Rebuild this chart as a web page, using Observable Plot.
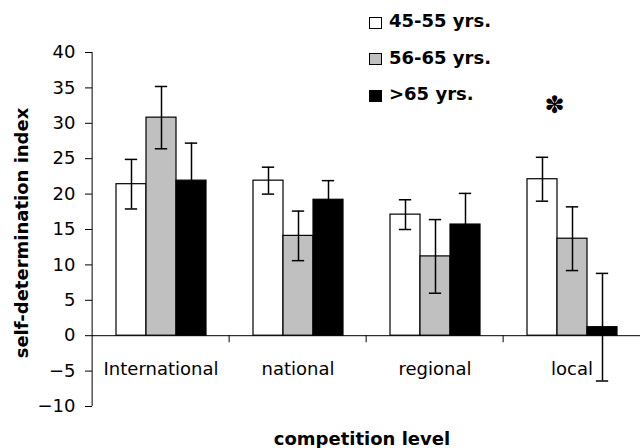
<!DOCTYPE html>
<html><head><meta charset="utf-8">
<script src="https://cdn.jsdelivr.net/npm/d3@7"></script>
<script src="https://cdn.jsdelivr.net/npm/@observablehq/plot@0.6"></script>
<style>
body{margin:0;background:#fff;}
#wrap{position:relative;width:641px;height:448px;font-family:"DejaVu Sans",sans-serif;overflow:hidden;background:#fff}
.ov{position:absolute;white-space:nowrap;font-weight:bold;font-size:18px;line-height:21px;color:#000}
.sw{position:absolute;width:11px;height:10px;border:1px solid #000}
</style></head><body><div id="wrap"></div>
<script>
// ---- data ----
const categories = ["International", "national", "regional", "local"];
const series = ["45-55 yrs.", "56-65 yrs.", ">65 yrs."];
const colors = ["#ffffff", "#c0c0c0", "#000000"];
const means45 = [21.4, 21.9, 17.1, 22.1];
const means56 = [30.8, 14.1, 11.2, 13.7];
const means65 = [21.9, 19.2, 15.7, 1.2];
const err45 = [3.5, 1.9, 2.1, 3.1];
const err56 = [4.4, 3.5, 5.2, 4.5];
const err65 = [5.3, 2.7, 4.4, 7.6];
const yTicks = [-10, -5, 0, 5, 10, 15, 20, 25, 30, 35, 40];
const markCategory = ["local"];
const markSeries = ["45-55 yrs."];
const markY = [32.6];
const markText = ["✽"];
const yLabel = "self-determination index";
const xLabel = "competition level";

// ---- build table ----
const means = [means45, means56, means65];
const errs = [err45, err56, err65];
const rows = categories.flatMap((c, i) => series.map((s, k) => ({category: c, series: s, value: means[k][i], err: errs[k][i]})));
const marks = markCategory.map((c, i) => ({category: c, series: markSeries[i], y: markY[i], text: markText[i]}));

const W = 641, H = 448, ML = 90, MR = 0, MT = 52, MB = 42;
const step = (W - ML - MR) / categories.length;
const barW = 30.67;
const po = (step / barW - series.length) / 2;
const capInset = (barW - 13) / 2;

const chart = Plot.plot({
  width: W, height: H,
  marginLeft: ML, marginRight: MR, marginTop: MT, marginBottom: MB,
  style: {fontFamily: "DejaVu Sans", fontSize: "18px", color: "#000", background: "#fff"},
  fx: {domain: categories, padding: 0, axis: null},
  x: {domain: series, paddingInner: 0, paddingOuter: po, axis: null},
  y: {domain: [-10, 40]},
  color: {domain: series, range: colors},
  marks: [
    Plot.ruleY([0], {stroke: "#000", strokeWidth: 1}),
    Plot.barY(rows, {fx: "category", x: "series", y: "value", fill: "series", stroke: "#000", strokeWidth: 1.2}),
    Plot.ruleX(rows, {fx: "category", x: "series", y1: d => d.value - d.err, y2: d => d.value + d.err, stroke: "#000", strokeWidth: 1.5}),
    Plot.tickY(rows, {fx: "category", x: "series", y: d => d.value + d.err, insetLeft: capInset, insetRight: capInset, stroke: "#000", strokeWidth: 1.5}),
    Plot.tickY(rows, {fx: "category", x: "series", y: d => d.value - d.err, insetLeft: capInset, insetRight: capInset, stroke: "#000", strokeWidth: 1.5}),
    Plot.ruleX(categories.slice(1), {fx: d => d, x: null, y1: () => 0, y2: () => -1, dx: -step / 2, stroke: "#000", strokeWidth: 1}),
    Plot.ruleX(categories.slice(0, 1), {fx: d => d, x: null, y1: () => -10, y2: () => 40, dx: -step / 2, stroke: "#000", strokeWidth: 1}),
    Plot.text(categories, {fx: d => d, text: d => d, y: () => 0, dy: 34, fontSize: 18, fill: "#000"}),
    Plot.text(marks, {fx: "category", x: "series", y: "y", text: "text", dx: 12, fontSize: 24, fill: "#000"}),
    Plot.axisY({ticks: yTicks, tickSize: 7, tickPadding: 10, fontSize: 18, label: null, tickFormat: d3.format("")})
  ]
});

const wrap = document.getElementById("wrap");
wrap.appendChild(chart);

// y label
const yl = document.createElement("div");
yl.className = "ov"; yl.textContent = yLabel;
yl.style.left = "21px"; yl.style.top = "233px";
yl.style.transform = "translate(-50%,-50%) rotate(-90deg)";
wrap.appendChild(yl);
// x label
const xl = document.createElement("div");
xl.className = "ov"; xl.textContent = xLabel;
xl.style.left = "362px"; xl.style.top = "438px";
xl.style.transform = "translate(-50%,-50%)";
wrap.appendChild(xl);
// legend
const rowCenters = [20.5, 57, 93.5];
series.forEach((s, k) => {
  const sw = document.createElement("div");
  sw.className = "sw"; sw.style.background = colors[k];
  sw.style.left = "369px"; sw.style.top = (rowCenters[k] - 4) + "px";
  wrap.appendChild(sw);
  const t = document.createElement("div");
  t.className = "ov"; t.textContent = s;
  t.style.left = "389px"; t.style.top = (rowCenters[k] - 10.5) + "px";
  wrap.appendChild(t);
});
</script></body></html>
